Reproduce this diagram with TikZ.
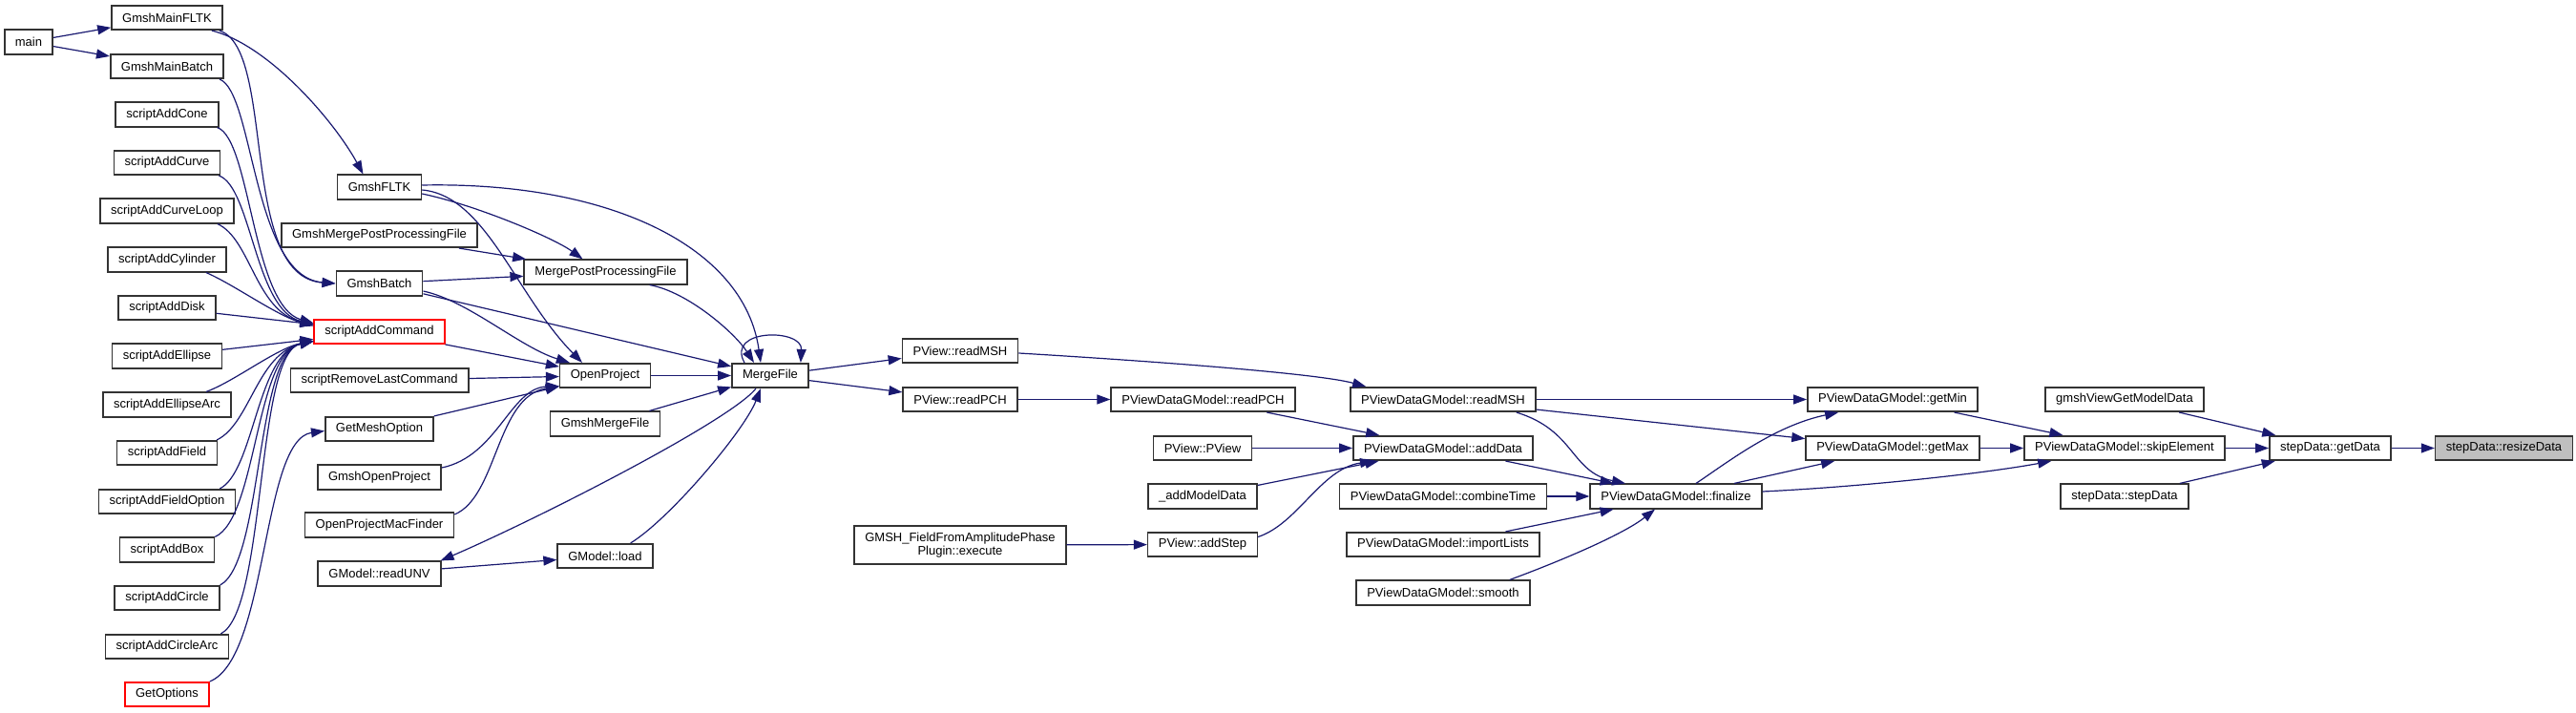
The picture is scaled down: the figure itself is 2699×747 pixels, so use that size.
\documentclass[tikz,border=0pt]{standalone}
\usepackage{fontspec}
\setmainfont{Liberation Sans}
\usetikzlibrary{arrows.meta}
\definecolor{edgeblue}{HTML}{191970}
\definecolor{rootgray}{HTML}{BFBFBF}

\begin{document}
\begin{tikzpicture}[
      x=0.5pt, y=-0.5pt,
      fn/.style={rectangle, draw=black!80, line width=0.8pt, fill=white,
                 align=center, inner xsep=5.6pt, inner ysep=1pt,
                 minimum height=12.75pt, font=\fontsize{6.5}{7.2}\selectfont},
      trunc/.style={fn, draw=red},
      root/.style={fn, fill=rootgray},
      arr/.style={-{Triangle[length=7pt,width=5pt]}, draw=edgeblue, line width=0.6pt}
    ]
    \useasboundingbox (0,0) rectangle (2699,747);
    \node[fn] (main)   at (30,44)      {main};
    \node[fn] (mfltk)  at (175,18.5)   {GmshMainFLTK};
    \node[fn] (mbatch) at (175,69.5)   {GmshMainBatch};
    \node[fn] (cone)   at (175,120)    {scriptAddCone};
    \node[fn] (curve)  at (175,170.5)  {scriptAddCurve};
    \node[fn] (cloop)  at (175,221)    {scriptAddCurveLoop};
    \node[fn] (cyl)    at (175,272)    {scriptAddCylinder};
    \node[fn] (disk)   at (175,322.5)  {scriptAddDisk};
    \node[fn] (ell)    at (175,373)    {scriptAddEllipse};
    \node[fn] (ellarc) at (175,424)    {scriptAddEllipseArc};
    \node[fn] (field)  at (175,474.5)  {scriptAddField};
    \node[fn] (fopt)   at (175,525.5)  {scriptAddFieldOption};
    \node[fn] (box)    at (175,576)    {scriptAddBox};
    \node[fn] (circ)   at (175,626.5)  {scriptAddCircle};
    \node[fn] (carc)   at (175,677.5)  {scriptAddCircleArc};
    \node[trunc] (gopt) at (175,727.5) {GetOptions};
    \node[fn] (fltk)    at (397.5,196)   {GmshFLTK};
    \node[fn] (gmpp)    at (397.5,246.5) {GmshMergePostProcessingFile};
    \node[fn] (batch)   at (397.5,297)   {GmshBatch};
    \node[trunc] (cmd)  at (397.5,347.5) {scriptAddCommand};
    \node[fn] (rmcmd)   at (397.5,398.5) {scriptRemoveLastCommand};
    \node[fn] (meshopt) at (397.5,449.5) {GetMeshOption};
    \node[fn] (gopen)   at (397.5,500)   {GmshOpenProject};
    \node[fn] (macf)    at (397.5,550)   {OpenProjectMacFinder};
    \node[fn] (unv)     at (397.5,601)   {GModel::readUNV};
    \node[fn] (mpp)    at (634.5,285)  {MergePostProcessingFile};
    \node[fn] (open)   at (634,393.5)  {OpenProject};
    \node[fn] (gmerge) at (634,444)    {GmshMergeFile};
    \node[fn] (load)   at (634,582.5)  {GModel::load};
    \node[fn] (merge)  at (807,393.5)  {MergeFile};
    \node[fn] (vmsh)   at (1006,367.5) {PView::readMSH};
    \node[fn] (vpch)   at (1006,418.5) {PView::readPCH};
    \node[fn, minimum height=20pt] (plugin) at (1006,571) {GMSH\_FieldFromAmplitudePhase\\Plugin::execute};
    \node[fn] (dpch)   at (1260.5,418.5) {PViewDataGModel::readPCH};
    \node[fn] (pview)  at (1260,469.5)   {PView::PView};
    \node[fn] (amd)    at (1260,520)     {\_addModelData};
    \node[fn] (astep)  at (1260,570.5)   {PView::addStep};
    \node[fn] (dmsh)   at (1512,418.5) {PViewDataGModel::readMSH};
    \node[fn] (adata)  at (1512,469.5) {PViewDataGModel::addData};
    \node[fn] (ctime)  at (1512,520)   {PViewDataGModel::combineTime};
    \node[fn] (ilists) at (1512,570.5) {PViewDataGModel::importLists};
    \node[fn] (smooth) at (1512,621)   {PViewDataGModel::smooth};
    \node[fn] (fin)    at (1756,520)   {PViewDataGModel::finalize};
    \node[fn] (gmin)   at (1983,418.5) {PViewDataGModel::getMin};
    \node[fn] (gmax)   at (1983,469.5) {PViewDataGModel::getMax};
    \node[fn] (gvgmd)  at (2226,418.5) {gmshViewGetModelData};
    \node[fn] (skip)   at (2226,469.5) {PViewDataGModel::skipElement};
    \node[fn] (sdsd)   at (2226,520)   {stepData::stepData};
    \node[fn] (getd)   at (2441.5,469.5) {stepData::getData};
    \node[root] (resize) at (2623.5,469.5) {stepData::resizeData};

    \draw[arr] (main) -- (mfltk);
    \draw[arr] (main) -- (mbatch);
    \draw[arr] ([shift={(-12,0)}]mfltk.south east) .. controls +(60,15) and +(-30,-55) .. ([shift={(-17,0)}]fltk.north);
    \draw[arr] ([shift={(-4,0)}]mfltk.south east) .. controls +(60,19) and +(-102,-7) .. (batch.west);
    \draw[arr] ([shift={(-5,0)}]mbatch.south east) .. controls +(36,13) and +(-87,-7) .. (batch.west);
    \draw[arr] ([shift={(-2,0)}]cone.south east) .. controls +(35,12) and +(-64,-18) .. ([shift={(0,-9)}]cmd.west);
    \draw[arr] ([shift={(-2,0)}]curve.south east) .. controls +(34,12) and +(-61,-14) .. ([shift={(0,-8)}]cmd.west);
    \draw[arr] ([shift={(-18,0)}]cloop.south east) .. controls +(35,16) and +(-61,-15) .. ([shift={(0,-7)}]cmd.west);
    \draw[arr] ([shift={(-22,0)}]cyl.south east) .. controls +(30,13) and +(-39,-11) .. ([shift={(0,-6)}]cmd.west);
    \draw[arr] (disk) -- (cmd);
    \draw[arr] (ell) -- (cmd);
    \draw[arr] ([shift={(-27,0)}]ellarc.north east) .. controls +(30,-11) and +(-39,8) .. ([shift={(0,9.5)}]cmd.west);
    \draw[arr] ([shift={(-1,0)}]field.north east) .. controls +(35,-17) and +(-59,13) .. ([shift={(0,10)}]cmd.west);
    \draw[arr] ([shift={(-17,0)}]fopt.north east) .. controls +(36,-18) and +(-59,12) .. ([shift={(0,10)}]cmd.west);
    \draw[arr] (box.north east) .. controls +(44,-20) and +(-61,12) .. ([shift={(0,10)}]cmd.west);
    \draw[arr] (circ.north east) .. controls +(45,-24) and +(-61,12) .. ([shift={(0,10)}]cmd.west);
    \draw[arr] ([shift={(-9,0)}]carc.north east) .. controls +(48,-25) and +(-61,12) .. ([shift={(0,10)}]cmd.west);
    \draw[arr] (gopt.north east) .. controls +(61,-25) and +(-66,9) .. ([shift={(0,2)}]meshopt.west);
    \draw[arr] (cmd) -- (open);
    \draw[arr] (rmcmd) -- (open);
    \draw[arr] (meshopt) -- (open);
    \draw[arr] ([shift={(0,-10)}]gopen.east) .. controls +(58,-12) and +(-51,2) .. ([shift={(0,-2.5)}]open.south west);
    \draw[arr] ([shift={(0,-11)}]macf.east) .. controls +(45,-19) and +(-66,11) .. ([shift={(0,-2.5)}]open.south west);
    \draw[arr] ([shift={(0,7)}]fltk.east) .. controls +(57,12) and +(-30,-22) .. ([shift={(-24,0)}]mpp.north);
    \draw[arr] ([shift={(0,3)}]fltk.east) .. controls +(67,6) and +(-70,-71) .. ([shift={(-24,0)}]open.north);
    \draw[arr] ([shift={(0,-2)}]fltk.east) .. controls +(197,-4) and +(-17,-121) .. ([shift={(-10,0)}]merge.north);
    \draw[arr] (gmpp) -- (mpp);
    \draw[arr] (batch) -- (mpp);
    \draw[arr] ([shift={(0,8)}]batch.east) .. controls +(47,10) and +(-52,-16) .. ([shift={(11,0)}]open.north west);
    \draw[arr] (batch) -- (merge);
    \draw[arr] ([shift={(-40,0)}]mpp.south east) .. controls +(40,7) and +(-20,-31) .. ([shift={(-17,0)}]merge.north);
    \draw[arr] (open) -- (merge);
    \draw[arr] (gmerge) -- (merge);
    \draw[arr] ([shift={(-15,0)}]merge.south) .. controls +(-27,34) and +(100,-43) .. ([shift={(-1,0)}]unv.north east);
    \draw[arr] (unv) -- (load);
    \draw[arr] ([shift={(-24,0)}]load.north east) .. controls +(41,-25) and +(-17,44) .. ([shift={(-10,0)}]merge.south);
    \draw[arr] ([shift={(-27,0)}]merge.north) .. controls +(-20,-36) and +(2,-36) .. ([shift={(-9,0)}]merge.north east);
    \draw[arr] (merge) -- (vmsh);
    \draw[arr] (merge) -- (vpch);
    \draw[arr] ([shift={(0,2.5)}]vmsh.east) .. controls +(134,8) and +(-52,-14) .. ([shift={(17,0)}]dmsh.north west);
    \draw[arr] (vpch) -- (dpch);
    \draw[arr] (dpch) -- (adata);
    \draw[arr] (pview) -- (adata);
    \draw[arr] (amd) -- (adata);
    \draw[arr] ([shift={(0,-8)}]astep.east) .. controls +(42,-14) and +(-55,8) .. ([shift={(22,0)}]adata.south west);
    \draw[arr] (plugin) -- (astep);
    \draw[arr] (dmsh) -- (gmin);
    \draw[arr] (dmsh) -- (gmax);
    \draw[arr] ([shift={(-21,0)}]dmsh.south east) .. controls +(62,19) and +(-58,-12) .. ([shift={(-53,0)}]fin.north);
    \draw[arr] (adata) -- (fin);
    \draw[arr] (ctime) -- (fin);
    \draw[arr] (ilists) -- (fin);
    \draw[arr] ([shift={(-22,0)}]smooth.north east) .. controls +(49,-18) and +(-34,27) .. ([shift={(-22,0)}]fin.south);
    \draw[arr] ([shift={(21,0)}]fin.north) .. controls +(33,-22) and +(-67,14) .. ([shift={(33,0)}]gmin.south west);
    \draw[arr] (fin) -- (gmax);
    \draw[arr] ([shift={(0,-5)}]fin.east) .. controls +(105,-5) and +(-70,13) .. ([shift={(29,0)}]skip.south west);
    \draw[arr] (gmin) -- (skip);
    \draw[arr] (gmax) -- (skip);
    \draw[arr] (gvgmd) -- (getd);
    \draw[arr] (skip) -- (getd);
    \draw[arr] (sdsd) -- (getd);
    \draw[arr] (getd) -- (resize);
  \end{tikzpicture}
\end{document}
